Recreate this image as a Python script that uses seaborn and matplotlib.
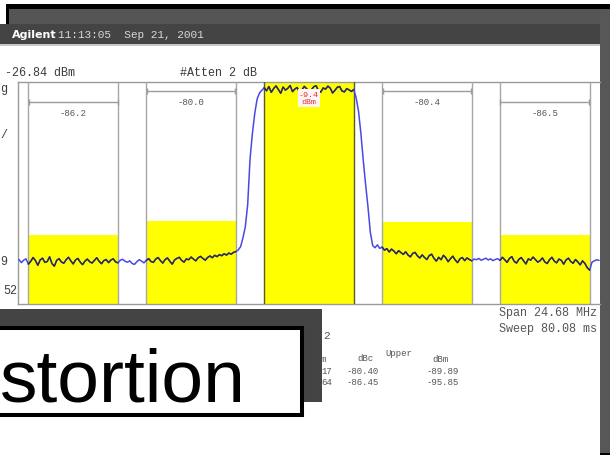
import numpy as np
import pandas as pd
import matplotlib
matplotlib.use("Agg")
import matplotlib.pyplot as plt
from matplotlib.patches import Rectangle
from matplotlib.transforms import blended_transform_factory
import seaborn as sns

# ---- sweep settings ----
span_mhz = 24.68
ref_level = -26.84          # dBm, top of graticule
db_per_div = 10.0
n_div = 10
freq_start = -12.3          # MHz offset of first trace point
freq_step = 0.1             # MHz between trace points

# ---- measured trace (dBm) ----
trace_dbm = [
    # lower band, 2nd adjacent channel region
    -106.8, -108.2, -107.1, -106.5, -108.9, -107.6, -105.9, -107.3, -109.4, -107.0,
    -106.2, -108.1, -107.7, -105.6, -108.6, -109.8, -107.2, -106.4, -107.9, -108.5,
    -106.9, -105.8, -107.4, -108.8, -107.0, -106.3, -108.0, -109.1, -107.5, -106.6,
    -107.8, -108.4, -107.2, -106.0, -107.6, -108.7, -107.3, -106.8, -108.2, -107.0,
    -106.5, -107.9, -108.3, -107.1, -106.7, -107.6, -108.0,
    # lower 1st adjacent channel region
    -107.4, -108.6, -109.0, -107.8, -106.9, -107.5, -108.3, -107.2, -106.4, -107.7,
    -108.1, -106.6, -105.9, -107.3, -108.4, -106.8, -106.1, -107.6, -108.9, -107.0,
    -106.3, -105.8, -107.2, -108.0, -106.5, -106.9, -105.7, -106.6, -107.4, -106.0,
    -105.4, -106.3, -107.1, -105.9, -105.2, -106.0, -104.9, -105.5, -104.6, -105.1,
    -104.2, -104.8, -103.9, -104.4, -103.6, -103.2,
    # rising skirt
    -102.5, -101.0, -97.0, -92.0, -82.0, -61.5, -50.0, -41.0, -34.5,
    -31.8, -30.6,
    # main channel
    -29.4, -30.8, -28.9, -31.5, -29.8, -28.6, -30.2, -31.9, -29.1, -30.5,
    -29.7, -28.4, -31.2, -30.0, -29.3, -31.6, -30.4, -28.8, -29.9, -31.0,
    -30.3, -29.0, -28.5, -30.7, -31.4, -29.5, -30.1, -28.7, -29.6, -31.8,
    -30.6, -29.2, -28.9, -30.9, -31.3, -29.8, -30.4, -31.1,
    # falling skirt
    -30.2, -34.0, -40.0, -50.0, -62.0, -73.0, -83.0, -94.5, -100.5, -101.5,
    -100.2, -101.8,
    # upper adjacent channels
    -101.2, -102.6, -101.9, -103.4, -102.1, -103.0, -104.2, -102.8, -103.7, -104.5,
    -103.3, -104.8, -105.6, -104.0, -103.6, -105.2, -106.1, -104.7, -105.9, -106.8,
    -105.0, -104.4, -106.3, -107.5, -105.8, -106.9, -104.9, -106.0, -107.8, -106.4,
    -105.3, -107.0, -108.2, -106.5, -105.9, -107.3, -106.1, -106.8, -107.4, -106.6,
    -106.9, -106.3, -107.1, -106.7, -106.2, -107.0, -106.5, -107.3, -106.8, -106.4,
    -107.2, -105.8, -106.9, -108.1, -106.3, -105.5, -107.6, -108.4, -106.7, -105.9,
    -107.4, -108.8, -106.5, -107.1, -105.7, -106.8, -108.0, -107.3, -106.1, -107.9,
    -108.6, -106.9, -105.8, -107.5, -108.3, -106.6, -107.2, -108.9, -107.0, -106.2,
    -107.7, -108.5, -106.8, -107.9, -109.2, -107.4, -108.6, -110.5, -111.6, -108.0,
    -107.4, -106.9, -107.2,
]

# ---- ACP channels ----
chan_offsets = [-10.0, -5.0, 0.0, 5.0, 10.0]   # MHz
chan_bw = 3.84                                  # MHz
main_power_dbm = -9.4
acp_dbc = [-86.2, -80.0, None, -80.4, -86.5]

# ---- numeric results table ----
table_header = ["m", "dBc", "Upper", "dBm"]
table_rows = [["17", "-80.40", "-89.89"],
              ["64", "-86.45", "-95.85"]]

freq = freq_start + freq_step * np.arange(len(trace_dbm))
df = pd.DataFrame({"freq": freq, "level": trace_dbm})

floor_db = ref_level - db_per_div * n_div
chan_levels = [main_power_dbm if d is None else main_power_dbm + d for d in acp_dbc]

sns.set_theme(style="white")
plt.rcParams["font.family"] = ["Liberation Mono", "DejaVu Sans Mono"]

W, H = 610, 456
fig = plt.figure(figsize=(W / 100, H / 100), dpi=100, facecolor="white")

# ---- screen frame (pixel coordinates) ----
bg = fig.add_axes([0, 0, 1, 1], zorder=0)
bg.set_xlim(0, W)
bg.set_ylim(H, 0)
bg.axis("off")


def box(x0, y0, x1, y1, color, z=1):
    bg.add_patch(Rectangle((x0, y0), x1 - x0, y1 - y0, facecolor=color,
                           edgecolor="none", zorder=z))


box(6, 5, 610, 10, "black")
box(6, 5, 9, 25, "black")
box(9, 10, 610, 25, "#555555")
box(0, 25, 600, 45, "#444444")
box(0, 45, 600, 47, "#c8c8c8")
box(600, 10, 610, 454, "#575757")
box(600, 454, 610, 456, "black")

bg.text(12, 35, "Agilent", color="white", fontweight="bold", fontsize=8,
        family=["DejaVu Sans", "Liberation Sans"], va="center", zorder=3)
bg.text(58, 35, "11:13:05  Sep 21, 2001", color="#d8d8d8", fontsize=8,
        va="center", zorder=3)

small = dict(color="#3c3c3c", fontsize=8.5, va="center")
bg.text(5, 73, "-26.84 dBm", **small)
bg.text(180, 73, "#Atten 2 dB", **small)
bg.text(0, 89, "g", **small)
bg.text(0, 135, "/", **small)
bg.text(0, 262, "9", **small)
bg.text(3, 291, "52", **small)

bg.text(597, 313, "Span 24.68 MHz", ha="right", color="#555555", fontsize=8.5,
        va="center")
bg.text(597, 329, "Sweep 80.08 ms", ha="right", color="#555555", fontsize=8.5,
        va="center")

tab = dict(color="#555555", fontsize=6.5, va="center")
bg.text(323, 336, "2", color="#555555", fontsize=8, va="center")
for x, y, s in zip([321, 357, 385, 432], [360, 359, 354, 360], table_header):
    bg.text(x, y, s, **tab)
for y, row in zip([372, 383], table_rows):
    for x, s in zip([321, 347, 427], row):
        bg.text(x, y, s, **tab)

# ---- slide caption ----
box(0, 310, 322, 403, "#444444", z=5)
bg.add_patch(Rectangle((-10, 329), 312, 87, facecolor="white", edgecolor="black",
                       linewidth=2.9, zorder=6))
bg.text(0, 402, "stortion", fontsize=54, family=["Liberation Sans", "DejaVu Sans"],
        color="black", ha="left", va="baseline", zorder=7)

# ---- spectrum display ----
ax = fig.add_axes([18 / W, (H - 305) / H, 582 / W, 222 / H], zorder=1)
ax.set_facecolor("white")
ax.set_xlim(-span_mhz / 2, span_mhz / 2)
ax.set_ylim(floor_db, ref_level)

ax.bar(chan_offsets, np.array(chan_levels) - floor_db, width=chan_bw,
       bottom=floor_db, color="#ffff00", linewidth=0, zorder=2)

for c, d in zip(chan_offsets, acp_dbc):
    edge = "#5a5a30" if d is None else "#a8a8a8"
    for e in (c - chan_bw / 2, c + chan_bw / 2):
        ax.axvline(e, color=edge, lw=1.0, zorder=3)

sns.lineplot(data=df, x="freq", y="level", color="#4848e6", lw=1.1,
             estimator=None, sort=False, ax=ax, zorder=4)
for c in chan_offsets:
    sub = df[(df["freq"] >= c - chan_bw / 2) & (df["freq"] <= c + chan_bw / 2)]
    sns.lineplot(data=sub, x="freq", y="level", color="#2c2c46", lw=1.0,
                 estimator=None, sort=False, ax=ax, zorder=5)

trans = blended_transform_factory(ax.transData, ax.transAxes)
bracket_y = [0.910, 0.959, None, 0.959, 0.910]
for c, d, yb in zip(chan_offsets, acp_dbc, bracket_y):
    if d is None:
        continue
    ax.plot([c - chan_bw / 2 + 0.04, c + chan_bw / 2 - 0.04], [yb, yb],
            color="#9c9c9c", lw=1.0, marker="|", ms=4, mew=1.0,
            transform=trans, zorder=6)
    ax.text(c, yb - 0.048, f"{d:.1f}", transform=trans, ha="center",
            va="center", fontsize=6.5, color="#555555", zorder=6)

ax.text(0, 0.928, f"{main_power_dbm:.1f}\ndBm", transform=trans, ha="center",
        va="center", fontsize=6, color="#e03030", linespacing=1.1, zorder=7,
        bbox=dict(facecolor="#fff4f4", edgecolor="none", pad=1.0))

ax.set_xticks([])
ax.set_yticks([])
ax.set_xlabel("")
ax.set_ylabel("")
for side in ("left", "top", "bottom"):
    ax.spines[side].set_color("#9a9a9a")
    ax.spines[side].set_linewidth(1.0)
ax.spines["right"].set_visible(False)

fig.savefig("out.png", dpi=100, facecolor="white")
